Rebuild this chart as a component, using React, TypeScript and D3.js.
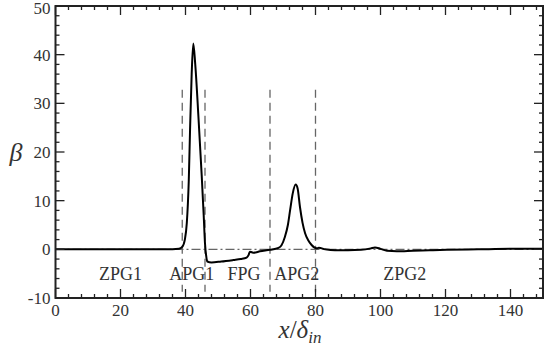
import { useRef, useEffect } from "react";
import * as d3 from "d3";

// streamwise position x/delta_in and pressure-gradient parameter beta
const xPos = [
  0, 10, 20, 30, 36, 38, 39, 39.8, 40.4, 41, 41.4, 41.9, 42.4, 43, 44, 45, 45.6, 46, 46.4, 46.7, 48, 51,
  54.7, 57, 58.8, 59.4, 59.8, 60.4, 61, 62.9, 66, 68.6, 69.5, 70.6, 71.5, 72.2, 73, 73.9, 74.5, 75.2, 76,
  76.8, 77.8, 78.8, 80.4, 81, 83, 86, 90, 94, 97, 98.3, 100, 102, 105, 110, 115, 120.4, 130, 140, 150,
];
const beta = [
  0, 0, 0, 0, 0, 0.1, 0.5, 2, 5.4, 14, 24.5, 36, 42.3, 38, 27, 15, 7, 1.2, -1.5, -2.5, -2.7, -2.5,
  -2.2, -2.0, -1.7, -1.2, -0.5, -0.6, -0.7, -0.4, -0.1, 0.3, 0.8, 2.6, 5, 8.1, 11.5, 13.3, 12.5, 8.8, 5.5,
  3.3, 1.8, 0.9, 0.2, 0.3, 0, -0.2, -0.2, -0.1, 0.2, 0.4, 0.1, -0.3, -0.4, -0.3, -0.2, -0.1, 0, 0.1, 0.1,
];

// region boundaries and labels
const boundaries = [39, 46, 66, 80];
const regionNames = ["ZPG1", "APG1", "FPG", "APG2", "ZPG2"];
const regionCenters = [20, 41.9, 58, 74.2, 107.5];

const xTickValues = [0, 20, 40, 60, 80, 100, 120, 140];
const yTickValues = [-10, 0, 10, 20, 30, 40, 50];

const W = 545;
const H = 351;
const margin = { top: 6, right: 2, bottom: 53, left: 55.5 };
const serif = "Times New Roman, Liberation Serif, DejaVu Serif, serif";

const BetaChart = () => {
  const svgRef = useRef<SVGSVGElement>(null);

  useEffect(() => {
    const svg = d3.select(svgRef.current);
    svg.selectAll("*").remove();

    const x = d3.scaleLinear().domain([0, 150]).range([margin.left, W - margin.right]);
    const y = d3.scaleLinear().domain([-10, 50]).range([H - margin.bottom, margin.top]);
    const axisColor = "#222";

    const x0 = x(0), x1 = x(150), y0 = y(-10), y1 = y(50);

    // zero reference line (dash-dot)
    svg.append("line")
      .attr("x1", x0).attr("x2", x1)
      .attr("y1", y(0)).attr("y2", y(0))
      .attr("stroke", "#666").attr("stroke-width", 1.3)
      .attr("stroke-dasharray", "9,3,2,3");

    // region boundaries
    svg.selectAll(".bound")
      .data(boundaries)
      .enter()
      .append("line")
      .attr("x1", (d) => x(d)).attr("x2", (d) => x(d))
      .attr("y1", y(32.8)).attr("y2", y(-8.7))
      .attr("stroke", "#666").attr("stroke-width", 1.3)
      .attr("stroke-dasharray", "8,5");

    // region labels
    svg.selectAll(".region")
      .data(regionNames)
      .enter()
      .append("text")
      .attr("x", (d, i) => x(regionCenters[i]))
      .attr("y", 280)
      .attr("text-anchor", "middle")
      .attr("font-family", serif)
      .attr("font-size", 18)
      .attr("fill", "#333")
      .text((d) => d);

    // beta curve
    const pts = xPos.map((v, i) => [v, beta[i]] as [number, number]);
    const line = d3.line<[number, number]>()
      .x((d) => x(d[0]))
      .y((d) => y(d[1]))
      .curve(d3.curveMonotoneX);

    svg.append("path")
      .datum(pts)
      .attr("fill", "none")
      .attr("stroke", "#000")
      .attr("stroke-width", 2)
      .attr("stroke-linejoin", "round")
      .attr("d", line);

    // frame
    svg.append("rect")
      .attr("x", x0).attr("y", y1)
      .attr("width", x1 - x0).attr("height", y0 - y1)
      .attr("fill", "none")
      .attr("stroke", axisColor)
      .attr("stroke-width", 2);

    // ticks (inward on all four sides)
    const xMinor = d3.range(0, 151, 4).filter((v) => v % 20 !== 0);
    const yMinor = d3.range(-10, 51, 2).filter((v) => v % 10 !== 0);

    const ticks = svg.append("g").attr("stroke", axisColor).attr("stroke-width", 1.3);
    const addX = (vals: number[], len: number) => {
      vals.forEach((v) => {
        ticks.append("line").attr("x1", x(v)).attr("x2", x(v)).attr("y1", y0).attr("y2", y0 - len);
        ticks.append("line").attr("x1", x(v)).attr("x2", x(v)).attr("y1", y1).attr("y2", y1 + len);
      });
    };
    const addY = (vals: number[], len: number) => {
      vals.forEach((v) => {
        ticks.append("line").attr("x1", x0).attr("x2", x0 + len).attr("y1", y(v)).attr("y2", y(v));
        ticks.append("line").attr("x1", x1).attr("x2", x1 - len).attr("y1", y(v)).attr("y2", y(v));
      });
    };
    addX(xMinor, 4);
    addX(xTickValues, 9);
    addY(yMinor, 4);
    addY(yTickValues, 9);

    // tick labels
    svg.selectAll(".xl")
      .data(xTickValues)
      .enter()
      .append("text")
      .attr("x", (d) => x(d))
      .attr("y", y0 + 18)
      .attr("text-anchor", "middle")
      .attr("font-family", serif)
      .attr("font-size", 17)
      .attr("fill", "#333")
      .text((d) => d);

    svg.selectAll(".yl")
      .data(yTickValues)
      .enter()
      .append("text")
      .attr("x", x0 - 5)
      .attr("y", (d) => Math.max(y(d) + 6, 14))
      .attr("text-anchor", "end")
      .attr("font-family", serif)
      .attr("font-size", 17)
      .attr("fill", "#333")
      .text((d) => d);

    // axis titles
    svg.append("text")
      .attr("x", 16)
      .attr("y", 161)
      .attr("text-anchor", "middle")
      .attr("font-family", serif)
      .attr("font-style", "italic")
      .attr("font-size", 26)
      .attr("fill", "#333")
      .text("β");

    const xt = svg.append("text")
      .attr("x", 300)
      .attr("y", 338)
      .attr("text-anchor", "middle")
      .attr("font-family", serif)
      .attr("font-style", "italic")
      .attr("font-size", 25)
      .attr("fill", "#333");
    xt.append("tspan").text("x");
    xt.append("tspan").attr("font-style", "normal").text("/");
    xt.append("tspan").text("δ");
    xt.append("tspan").attr("dy", 5).attr("font-size", 17).text("in");
  }, []);

  return <svg ref={svgRef} width={W} height={H} style={{ display: "block" }}></svg>;
};

export default function App() {
  return (
    <div style={{ position: "absolute", left: 0, top: 0, background: "#fff" }}>
      <BetaChart />
    </div>
  );
}
